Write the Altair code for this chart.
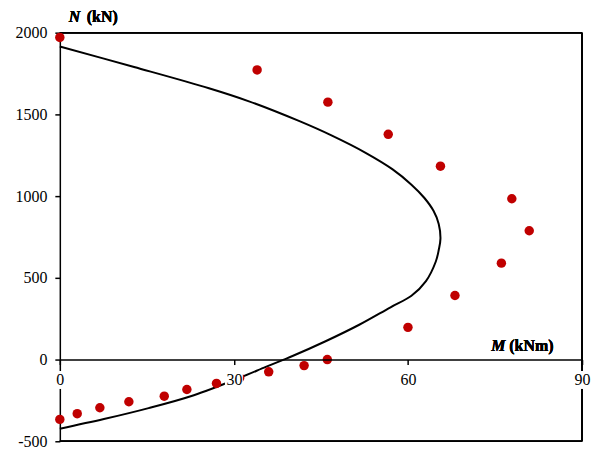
import altair as alt
import pandas as pd

# Interaction curve (M in kNm, N in kN), traced in order
curve_m = [0, 12.8, 25.7, 32.6, 41.2, 46.9, 52.7, 57.3, 60.6, 62.8, 64.4, 65.3, 65.6,
           65.3, 64.8, 63.1, 60.6, 57.0, 51.6, 45.8, 40.0, 38.6, 35.5, 30.9, 23.1, 15.3, 7.6, 0]
curve_n = [1915, 1790, 1660, 1580, 1460, 1370, 1265, 1165, 1070, 990, 910, 830, 740,
           670, 600, 480, 390, 320, 213, 112, 20, 0, -45, -113, -218, -297, -364, -423]

# Test / computed points
dot_m = [0, 34.0, 46.2, 56.6, 65.6, 77.9, 80.9, 76.1, 68.1, 60.0, 46.1, 42.1, 36.0,
         31.0, 27.0, 21.9, 18.0, 11.9, 6.9, 3.0, 0]
dot_n = [1971, 1772, 1575, 1378, 1183, 984, 788, 590, 392, 197, 0, -37, -75,
         -112, -146, -183, -224, -258, -295, -331, -366]

x_ticks = [0, 30, 60, 90]
y_ticks = [-500, 0, 500, 1000, 1500, 2000]

FONT = "Liberation Serif"

curve_df = pd.DataFrame({"M": curve_m, "N": curve_n, "i": list(range(len(curve_m)))})
dot_df = pd.DataFrame({"M": dot_m, "N": dot_n})
tick_df = pd.DataFrame({"M": x_ticks})

xscale = alt.Scale(domain=[0, 90], nice=False, zero=False)
yscale = alt.Scale(domain=[-500, 2000], nice=False, zero=False)

xaxis = alt.Axis(values=x_ticks, offset=-82, zindex=1, title=None, grid=False,
                 labelFont=FONT, labelFontSize=16, labelColor="black",
                 labelFlush=False, labelOverlap=False, labelPadding=7,
                 tickSize=5, tickColor="black", tickWidth=1.5,
                 domainColor="black", domainWidth=1.5)
yaxis = alt.Axis(values=y_ticks, title=None, grid=False,
                 labelFont=FONT, labelFontSize=16, labelColor="black",
                 labelFlush=False, labelOverlap=False, labelPadding=8,
                 labelExpr="datum.value < 0 ? '-' + abs(datum.value) : '' + datum.value",
                 tickSize=5, tickColor="black", tickWidth=1.5,
                 domainColor="black", domainWidth=1.5)

top_rule = alt.Chart(tick_df).mark_rule(color="black", strokeWidth=1.5).encode(
    y=alt.datum(2000, scale=yscale))
bottom_rule = alt.Chart(tick_df).mark_rule(color="black", strokeWidth=1.5).encode(
    y=alt.datum(-500))
right_rule = alt.Chart(tick_df).mark_rule(color="black", strokeWidth=1.5).encode(
    x=alt.datum(90))

line = alt.Chart(curve_df).mark_line(color="black", strokeWidth=2,
                                     interpolate="catmull-rom").encode(
    x=alt.X("M:Q", scale=xscale, axis=xaxis),
    y=alt.Y("N:Q", scale=yscale, axis=yaxis),
    order="i:Q",
)

dots = alt.Chart(dot_df).mark_circle(color="#C00000", size=90, opacity=1).encode(
    x="M:Q", y="N:Q")

squares = alt.Chart(tick_df).mark_square(color="white", size=324, opacity=1,
                                         yOffset=20.5).encode(
    x="M:Q", y=alt.datum(0))

n_title = alt.Chart(tick_df).mark_text(text="N", font=FONT, fontSize=16, fontWeight="bold",
                                       fontStyle="italic", align="left", baseline="alphabetic",
                                       color="black").encode(x=alt.value(9), y=alt.value(-11))
n_unit = alt.Chart(tick_df).mark_text(text="(kN)", font=FONT, fontSize=16, fontWeight="bold",
                                      align="left", baseline="alphabetic",
                                      color="black").encode(x=alt.value(27), y=alt.value(-11))
m_title = alt.Chart(tick_df).mark_text(text="M", font=FONT, fontSize=16, fontWeight="bold",
                                       fontStyle="italic", align="left", baseline="alphabetic",
                                       color="black").encode(x=alt.value(433), y=alt.value(319))
m_unit = alt.Chart(tick_df).mark_text(text="(kNm)", font=FONT, fontSize=16, fontWeight="bold",
                                      align="left", baseline="alphabetic",
                                      color="black").encode(x=alt.value(451), y=alt.value(319))

chart = alt.layer(line, top_rule, bottom_rule, right_rule, dots, squares,
                  n_title, n_unit, m_title, m_unit).properties(
    width=524, height=410,
    autosize=alt.AutoSizeParams(type="none"),
    padding={"left": 52, "top": 24, "right": 12, "bottom": 10},
    background="white",
).configure_view(stroke=None)

chart.save("out.html", embed_options={"renderer": "svg", "actions": False})
